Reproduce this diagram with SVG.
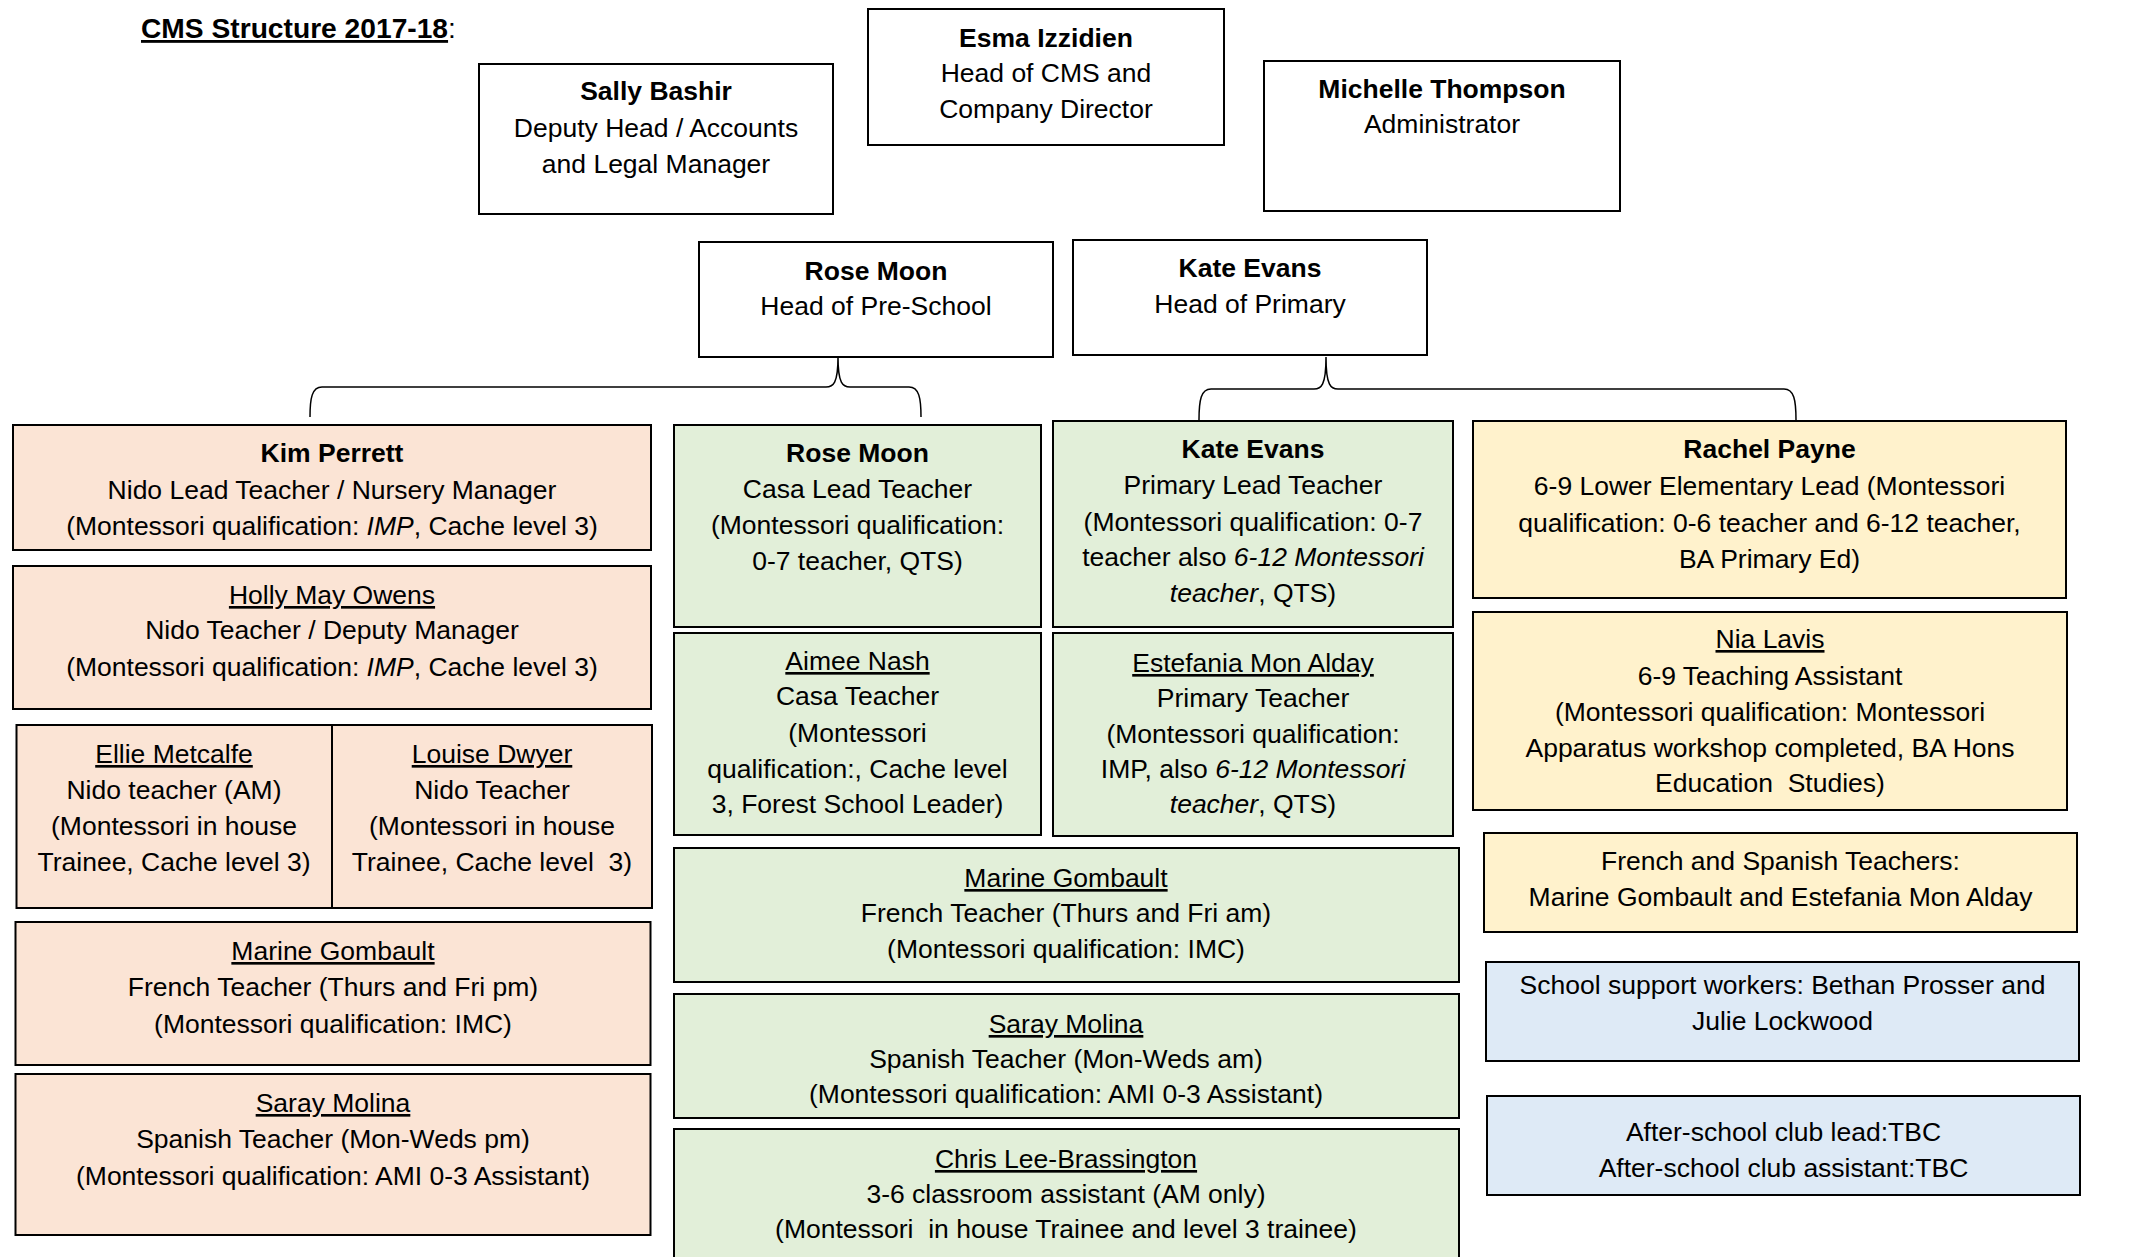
<svg xmlns="http://www.w3.org/2000/svg" width="2150" height="1257" viewBox="0 0 2150 1257">
<style>
text{font-family:"Liberation Sans",Arial,sans-serif;font-size:26.5px;fill:#000;text-anchor:middle}
.box{stroke:#000;stroke-width:2}
.w{fill:#fff}
.p{fill:#FBE4D5}
.g{fill:#E2EFD9}
.y{fill:#FFF2CC}
.bl{fill:#DEEAF6}
.n{font-weight:bold}
.u{text-decoration:underline}
.i{font-style:italic}
.con{fill:none;stroke:#000;stroke-width:1.5}
</style>
<rect width="2150" height="1257" fill="#fff"/>
<text x="141" y="38" style="text-anchor:start;font-size:28.2px"><tspan class="n u">CMS Structure 2017-18</tspan>:</text>

<g id="connectors">
<path class="con" d="M310,417 C310,398 312,387 322,387 L826,387 C833,387 838,384 838,357 C838,384 843,387 850,387 L909,387 C919,387 921,398 921,417"/>
<path class="con" d="M1199,420 C1199,400 1201,389 1211,389 L1314,389 C1321,389 1326,386 1326,357 C1326,386 1331,389 1338,389 L1784,389 C1794,389 1796,400 1796,420"/>
</g>

<g id="sally">
<rect class="box w" x="479" y="64" width="354" height="150"/>
<text x="656" y="100" class="n">Sally Bashir</text>
<text x="656" y="137">Deputy Head / Accounts</text>
<text x="656" y="173">and Legal Manager</text>
</g>
<g id="esma">
<rect class="box w" x="868" y="9" width="356" height="136"/>
<text x="1046" y="47" class="n">Esma Izzidien</text>
<text x="1046" y="82">Head of CMS and</text>
<text x="1046" y="118">Company Director</text>
</g>
<g id="michelle">
<rect class="box w" x="1264" y="61" width="356" height="150"/>
<text x="1442" y="98" class="n">Michelle Thompson</text>
<text x="1442" y="133">Administrator</text>
</g>
<g id="rose-head">
<rect class="box w" x="699" y="242" width="354" height="115"/>
<text x="876" y="280" class="n">Rose Moon</text>
<text x="876" y="315">Head of Pre-School</text>
</g>
<g id="kate-head">
<rect class="box w" x="1073" y="240" width="354" height="115"/>
<text x="1250" y="277" class="n">Kate Evans</text>
<text x="1250" y="313">Head of Primary</text>
</g>

<g id="kim">
<rect class="box p" x="13" y="425" width="638" height="125"/>
<text x="332" y="462" class="n">Kim Perrett</text>
<text x="332" y="499">Nido Lead Teacher / Nursery Manager</text>
<text x="332" y="535">(Montessori qualification: <tspan class="i">IMP</tspan>, Cache level 3)</text>
</g>
<g id="holly">
<rect class="box p" x="13" y="566" width="638" height="143"/>
<text x="332" y="604" class="u">Holly May Owens</text>
<text x="332" y="639">Nido Teacher / Deputy Manager</text>
<text x="332" y="676">(Montessori qualification: <tspan class="i">IMP</tspan>, Cache level 3)</text>
</g>
<g id="ellie">
<rect class="box p" x="16.5" y="725" width="315.5" height="183"/>
<text x="174" y="763" class="u">Ellie Metcalfe</text>
<text x="174" y="799">Nido teacher (AM)</text>
<text x="174" y="835">(Montessori in house</text>
<text x="174" y="871">Trainee, Cache level 3)</text>
</g>
<g id="louise">
<rect class="box p" x="332" y="725" width="320" height="183"/>
<text x="492" y="763" class="u">Louise Dwyer</text>
<text x="492" y="799">Nido Teacher</text>
<text x="492" y="835">(Montessori in house</text>
<text x="492" y="871" xml:space="preserve">Trainee, Cache level  3)</text>
</g>
<g id="marine-pre">
<rect class="box p" x="15.5" y="922" width="635" height="143"/>
<text x="333" y="960" class="u">Marine Gombault</text>
<text x="333" y="996">French Teacher (Thurs and Fri pm)</text>
<text x="333" y="1033">(Montessori qualification: IMC)</text>
</g>
<g id="saray-pre">
<rect class="box p" x="15.5" y="1074" width="635" height="161"/>
<text x="333" y="1112" class="u">Saray Molina</text>
<text x="333" y="1148">Spanish Teacher (Mon-Weds pm)</text>
<text x="333" y="1185">(Montessori qualification: AMI 0-3 Assistant)</text>
</g>

<g id="rose-casa">
<rect class="box g" x="674" y="425" width="367" height="202"/>
<text x="857.5" y="462" class="n">Rose Moon</text>
<text x="857.5" y="498">Casa Lead Teacher</text>
<text x="857.5" y="534">(Montessori qualification:</text>
<text x="857.5" y="570">0-7 teacher, QTS)</text>
</g>
<g id="aimee">
<rect class="box g" x="674" y="633" width="367" height="202"/>
<text x="857.5" y="670" class="u">Aimee Nash</text>
<text x="857.5" y="705">Casa Teacher</text>
<text x="857.5" y="742">(Montessori</text>
<text x="857.5" y="778">qualification:, Cache level</text>
<text x="857.5" y="813">3, Forest School Leader)</text>
</g>
<g id="kate-lead">
<rect class="box g" x="1053" y="421" width="400" height="206"/>
<text x="1253" y="458" class="n">Kate Evans</text>
<text x="1253" y="494">Primary Lead Teacher</text>
<text x="1253" y="531">(Montessori qualification: 0-7</text>
<text x="1253" y="566">teacher also <tspan class="i">6-12 Montessori</tspan></text>
<text x="1253" y="602"><tspan class="i">teacher</tspan>, QTS)</text>
</g>
<g id="estefania">
<rect class="box g" x="1053" y="633" width="400" height="203"/>
<text x="1253" y="672" class="u">Estefania Mon Alday</text>
<text x="1253" y="707">Primary Teacher</text>
<text x="1253" y="743">(Montessori qualification:</text>
<text x="1253" y="778">IMP, also <tspan class="i">6-12 Montessori</tspan></text>
<text x="1253" y="813"><tspan class="i">teacher</tspan>, QTS)</text>
</g>
<g id="marine-pri">
<rect class="box g" x="674" y="848" width="785" height="134"/>
<text x="1066" y="887" class="u">Marine Gombault</text>
<text x="1066" y="922">French Teacher (Thurs and Fri am)</text>
<text x="1066" y="958">(Montessori qualification: IMC)</text>
</g>
<g id="saray-pri">
<rect class="box g" x="674" y="994" width="785" height="124"/>
<text x="1066" y="1033" class="u">Saray Molina</text>
<text x="1066" y="1068">Spanish Teacher (Mon-Weds am)</text>
<text x="1066" y="1103">(Montessori qualification: AMI 0-3 Assistant)</text>
</g>
<g id="chris">
<rect class="box g" x="674" y="1129" width="785" height="140"/>
<text x="1066" y="1168" class="u">Chris Lee-Brassington</text>
<text x="1066" y="1203">3-6 classroom assistant (AM only)</text>
<text x="1066" y="1238" xml:space="preserve">(Montessori  in house Trainee and level 3 trainee)</text>
</g>

<g id="rachel">
<rect class="box y" x="1473" y="421" width="593" height="177"/>
<text x="1769.5" y="458" class="n">Rachel Payne</text>
<text x="1769.5" y="495">6-9 Lower Elementary Lead (Montessori</text>
<text x="1769.5" y="532">qualification: 0-6 teacher and 6-12 teacher,</text>
<text x="1769.5" y="568">BA Primary Ed)</text>
</g>
<g id="nia">
<rect class="box y" x="1473" y="612" width="594" height="198"/>
<text x="1770" y="648" class="u">Nia Lavis</text>
<text x="1770" y="685">6-9 Teaching Assistant</text>
<text x="1770" y="721">(Montessori qualification: Montessori</text>
<text x="1770" y="757">Apparatus workshop completed, BA Hons</text>
<text x="1770" y="792" xml:space="preserve">Education  Studies)</text>
</g>
<g id="languages">
<rect class="box y" x="1484" y="833" width="593" height="99"/>
<text x="1780.5" y="870">French and Spanish Teachers:</text>
<text x="1780.5" y="906">Marine Gombault and Estefania Mon Alday</text>
</g>
<g id="support">
<rect class="box bl" x="1486" y="962" width="593" height="99"/>
<text x="1782.5" y="994">School support workers: Bethan Prosser and</text>
<text x="1782.5" y="1030">Julie Lockwood</text>
</g>
<g id="afterschool">
<rect class="box bl" x="1487" y="1096" width="593" height="99"/>
<text x="1783.5" y="1141">After-school club lead:TBC</text>
<text x="1783.5" y="1177">After-school club assistant:TBC</text>
</g>
</svg>
